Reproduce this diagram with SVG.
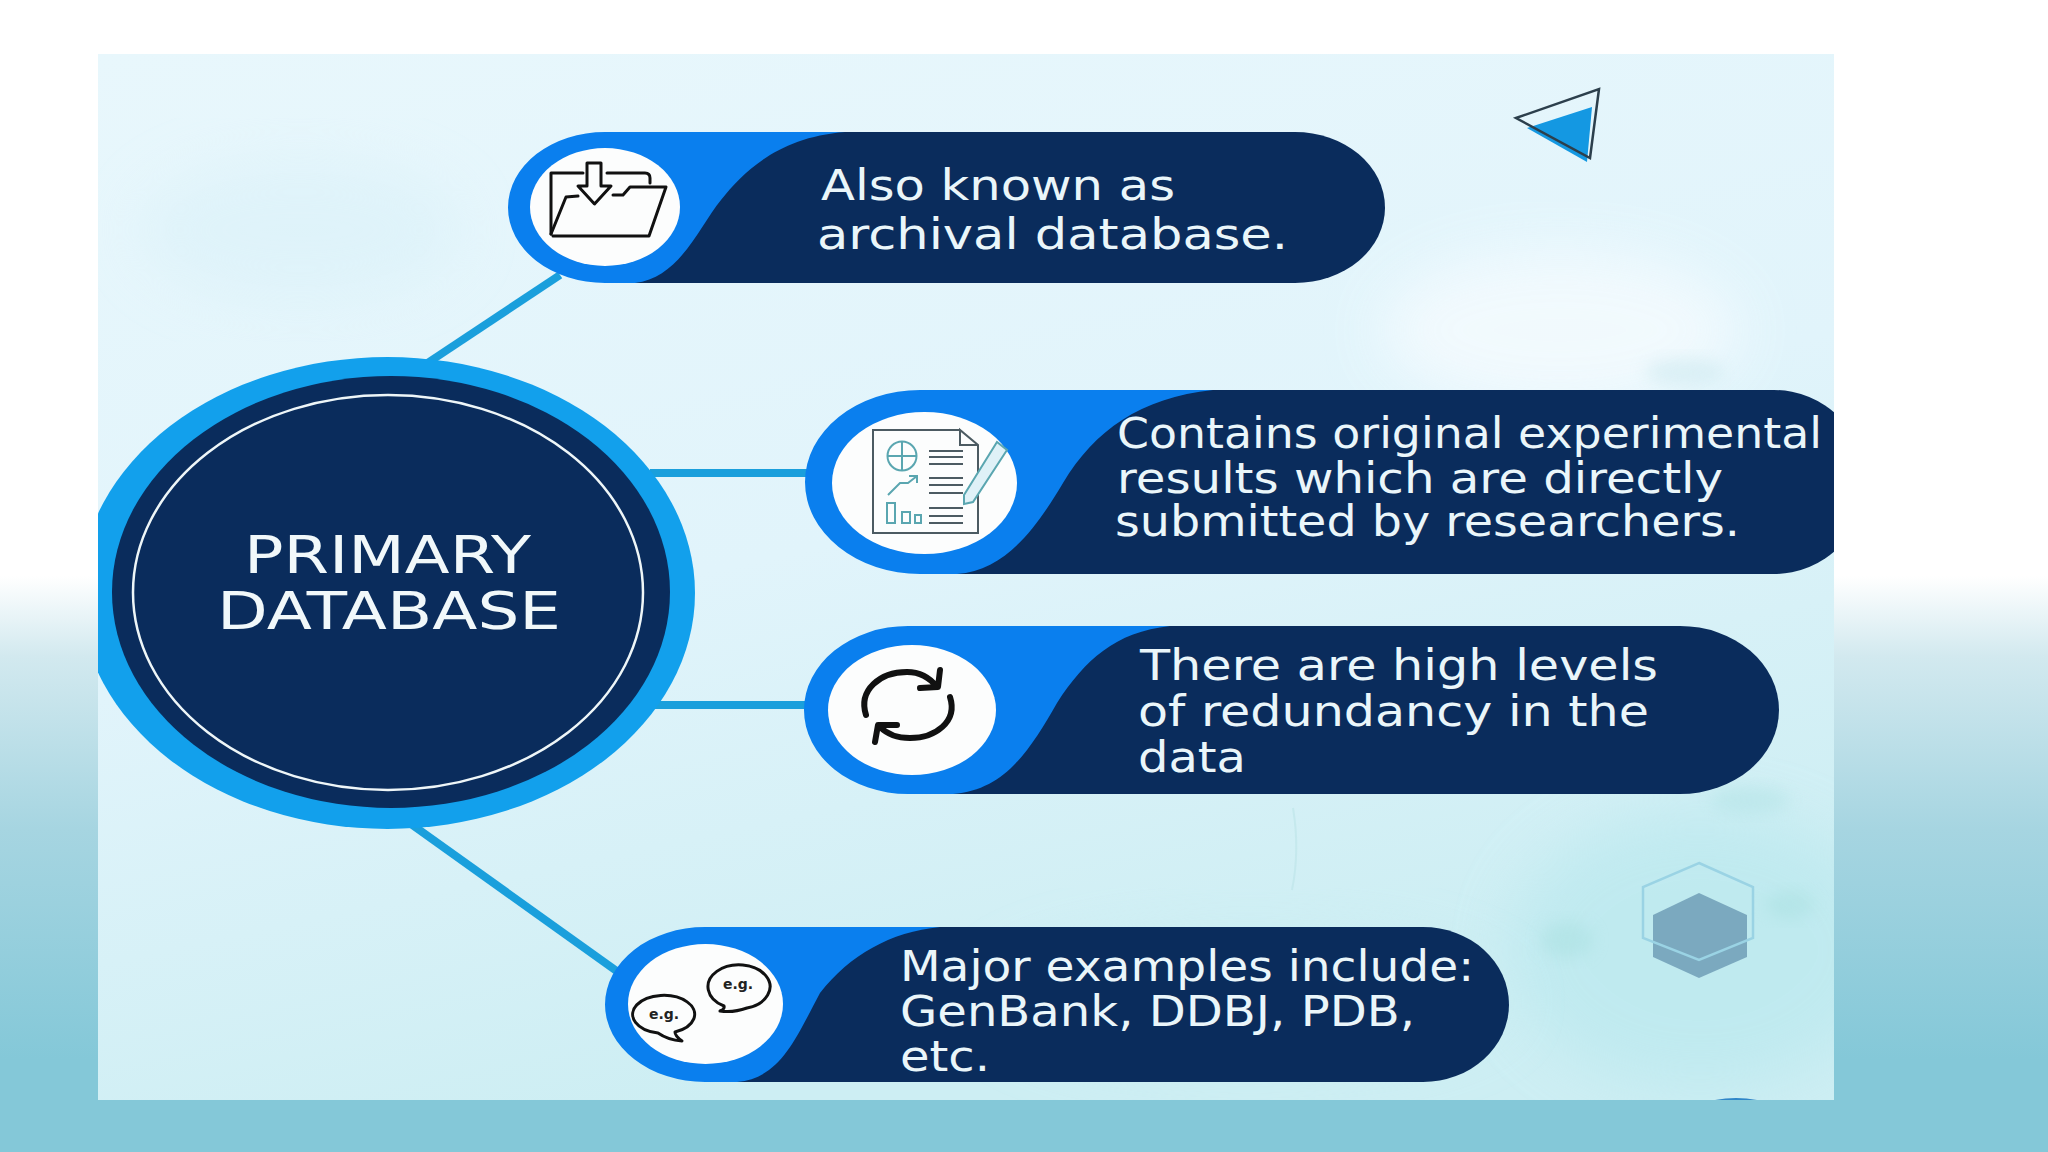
<svg xmlns="http://www.w3.org/2000/svg" width="2048" height="1152" viewBox="0 0 2048 1152">
<style>
.navy{fill:#0a2c5c}
.blue{fill:#0a7fee}
.white{fill:#fcfdfd}
.t{font-family:"DejaVu Sans",sans-serif;font-size:43px;fill:#eaf6fa}
.tb{font-family:"DejaVu Sans",sans-serif;font-size:52px;fill:#f1f8fa}
.con{stroke:#1a9fdc;stroke-width:8;fill:none}
.ink{fill:none;stroke:#111;stroke-width:3;stroke-linejoin:round;stroke-linecap:round}
.doc{fill:none;stroke:#4c5b62;stroke-width:2}
.chart{fill:none;stroke:#5aa6b0;stroke-width:2}
.eg{font-family:"DejaVu Sans",sans-serif;font-size:14px;font-weight:700;fill:#222;text-anchor:middle}
</style>
<defs>
<linearGradient id="page" x1="0" y1="0" x2="0" y2="1">
<stop offset="0.5" stop-color="#ffffff"/>
<stop offset="0.57" stop-color="#d2e9ef"/>
<stop offset="0.72" stop-color="#a6d5e1"/>
<stop offset="0.92" stop-color="#84c8d8"/>
<stop offset="1" stop-color="#84c8d8"/>
</linearGradient>
<linearGradient id="panel" x1="0" y1="0" x2="0.35" y2="1">
<stop offset="0" stop-color="#e8f7fc"/>
<stop offset="0.55" stop-color="#e1f4fb"/>
<stop offset="1" stop-color="#cdeef3"/>
</linearGradient>
<clipPath id="pc"><rect x="98" y="54" width="1736" height="1046"/></clipPath>
<filter id="soft" x="-30%" y="-30%" width="160%" height="160%"><feGaussianBlur stdDeviation="28"/></filter>
<filter id="soft2" x="-30%" y="-30%" width="160%" height="160%"><feGaussianBlur stdDeviation="8"/></filter>
</defs>

<rect width="2048" height="1152" fill="url(#page)"/>
<g id="panel-bg" clip-path="url(#pc)">
<rect x="98" y="54" width="1736" height="1046" fill="url(#panel)"/>
<ellipse cx="1700" cy="950" rx="190" ry="140" fill="#b9e8ee" opacity=".65" filter="url(#soft)"/>
<ellipse cx="1250" cy="1000" rx="260" ry="70" fill="#c8edf2" opacity=".55" filter="url(#soft)"/>
<ellipse cx="1560" cy="330" rx="180" ry="80" fill="#f4fbfe" opacity=".85" filter="url(#soft)"/>
<ellipse cx="300" cy="230" rx="160" ry="70" fill="#d8f0f8" opacity=".5" filter="url(#soft)"/>
<ellipse cx="1685" cy="372" rx="40" ry="14" fill="#cbe8ee" opacity=".5" filter="url(#soft2)"/>
<ellipse cx="1750" cy="800" rx="40" ry="14" fill="#afe2e4" opacity=".45" filter="url(#soft2)"/>
<ellipse cx="1567" cy="940" rx="26" ry="18" fill="#a9e0e0" opacity=".5" filter="url(#soft2)"/>
<ellipse cx="1790" cy="905" rx="24" ry="14" fill="#a9e0e0" opacity=".5" filter="url(#soft2)"/>
<path d="M1293 808Q1300 850 1292 890" fill="none" stroke="#bfe6ea" stroke-width="2" opacity=".7"/>
<path d="M1715 1100Q1736 1096 1757 1100Z" fill="#2f86c8"/>
</g>

<g id="triangle-deco">
<polygon points="1527,128 1592,107 1587,162" fill="#1498e2"/>
<polygon points="1516,118 1599,89 1590,158" fill="none" stroke="#2c3f4c" stroke-width="2.5"/>
</g>
<g id="hexagon-deco">
<polygon points="1699,893 1747,915 1747,957 1699,978 1653,957 1653,915" fill="#7ba9bf"/>
<polygon points="1699,863 1753,887 1753,938 1699,960 1643,938 1643,887" fill="none" stroke="#9ad3e4" stroke-width="2.5"/>
</g>

<g id="connectors">
<line class="con" x1="420" y1="368" x2="560" y2="275"/>
<line class="con" x1="650" y1="473" x2="815" y2="473"/>
<line class="con" x1="655" y1="705" x2="815" y2="705"/>
<line class="con" x1="404" y1="819" x2="618" y2="972"/>
</g>

<g id="node-primary" clip-path="url(#pc)">
<ellipse cx="387.500" cy="593" rx="307.500" ry="236" fill="#12a0ec"/>
<ellipse cx="391" cy="592" rx="279" ry="216" class="navy"/>
<ellipse cx="388" cy="592.500" rx="255" ry="197.500" fill="none" stroke="#eef6f8" stroke-width="2.500"/>
<text class="tb" x="244" y="573" textLength="287" lengthAdjust="spacingAndGlyphs">PRIMARY</text>
<text class="tb" x="217" y="629" textLength="344" lengthAdjust="spacingAndGlyphs">DATABASE</text>
</g>

<g id="node-archival">
<path class="navy" d="M620 132H1295A90 75.500 0 0 1 1295 283H620Z"/>
<path class="blue" d="M605 132H845C780 137 745 170 721 200C700 225 680 278 635 283H605A97 75.500 0 0 1 605 132Z"/>
<ellipse cx="605" cy="207" rx="75" ry="59" class="white"/>
<path class="ink" d="M551 234V173H583M607 173H645Q650 173 650 178V183"/>
<path class="ink" d="M553 236H649L666 187H630L623 195H613M551 234L566 197L578 196"/>
<path class="ink" d="M587 163H601V186H611L594.500 204L578 186H587Z"/>
<text class="t" x="821" y="200" textLength="354" lengthAdjust="spacingAndGlyphs">Also known as</text>
<text class="t" x="817" y="249" textLength="471" lengthAdjust="spacingAndGlyphs">archival database.</text>
</g>

<g id="node-experimental">
<g clip-path="url(#pc)"><path class="navy" d="M940 390H1774A92 92 0 0 1 1774 574H940Z"/></g>
<path class="blue" d="M920 390H1213C1140 398 1095 430 1063 483C1035 530 1005 570 957 574H920A115 92 0 0 1 920 390Z"/>
<ellipse cx="924.500" cy="483" rx="92.500" ry="71" class="white"/>
<path class="doc" d="M960 430H873V533H978V445L960 430V445H978"/>
<path class="doc" d="M929 451H963M929 457H963M929 464H963M929 478H963M929 485H963M929 493H963M929 508H963M929 516H963M929 523H963"/>
<circle class="chart" cx="902" cy="456" r="14.500"/>
<path class="chart" d="M887.500 456H916.500M902 441.500V470.500"/>
<path class="chart" d="M888 495L900 483H908L917 476M909 476H917V483"/>
<path class="chart" d="M887 503h8v20h-8zM902 512h8v11h-8zM915 515h6v8h-6z"/>
<polygon points="964,495 997,442 1007,450 973,502 964,504" fill="#dff1f7" stroke="#5aa6b0" stroke-width="2"/>
<text class="t" x="1117" y="448" textLength="705" lengthAdjust="spacingAndGlyphs">Contains original experimental</text>
<text class="t" x="1117" y="493" textLength="606" lengthAdjust="spacingAndGlyphs">results which are directly</text>
<text class="t" x="1115" y="536" textLength="625" lengthAdjust="spacingAndGlyphs">submitted by researchers.</text>
</g>

<g id="node-redundancy">
<path class="navy" d="M925 626H1680A99 84 0 0 1 1680 794H925Z"/>
<path class="blue" d="M908 626H1170C1115 632 1085 660 1057 703C1030 750 1005 790 953 794H908A104 84 0 0 1 908 626Z"/>
<ellipse cx="912" cy="710" rx="84" ry="65" class="white"/>
<path d="M866 715C858 690 880 672 907 672C920 672 930 678 937 687M940 670L938 687L920 688M950 697C958 722 935 738 910 738C897 738 887 734 880 727M875 742L878 725L897 725" fill="none" stroke="#111" stroke-width="6" stroke-linecap="round" stroke-linejoin="round"/>
<text class="t" x="1140" y="680" textLength="518" lengthAdjust="spacingAndGlyphs">There are high levels</text>
<text class="t" x="1138" y="726" textLength="511" lengthAdjust="spacingAndGlyphs">of redundancy in the</text>
<text class="t" x="1138" y="772" textLength="108" lengthAdjust="spacingAndGlyphs">data</text>
</g>

<g id="node-examples">
<path class="navy" d="M720 927H1423A86 77.500 0 0 1 1423 1082H720Z"/>
<path class="blue" d="M705 927H940C890 932 850 955 820 993C795 1040 780 1078 737 1082H705A100 77.500 0 0 1 705 927Z"/>
<ellipse cx="705.500" cy="1004" rx="77.500" ry="60" class="white"/>
<path class="ink" d="M724 1006A31 22 0 1 1 747 1008Q733 1013 720 1011Q725 1009 724 1006Z"/>
<path class="ink" d="M658 1033Q668 1040 682 1041Q675 1036 675 1032A31 19 0 1 0 658 1033Z"/>
<text class="eg" x="738" y="989">e.g.</text>
<text class="eg" x="664" y="1019">e.g.</text>
<text class="t" x="900" y="981" textLength="574" lengthAdjust="spacingAndGlyphs">Major examples include:</text>
<text class="t" x="900" y="1026" textLength="515" lengthAdjust="spacingAndGlyphs">GenBank, DDBJ, PDB,</text>
<text class="t" x="900" y="1071" textLength="90" lengthAdjust="spacingAndGlyphs">etc.</text>
</g>
</svg>
